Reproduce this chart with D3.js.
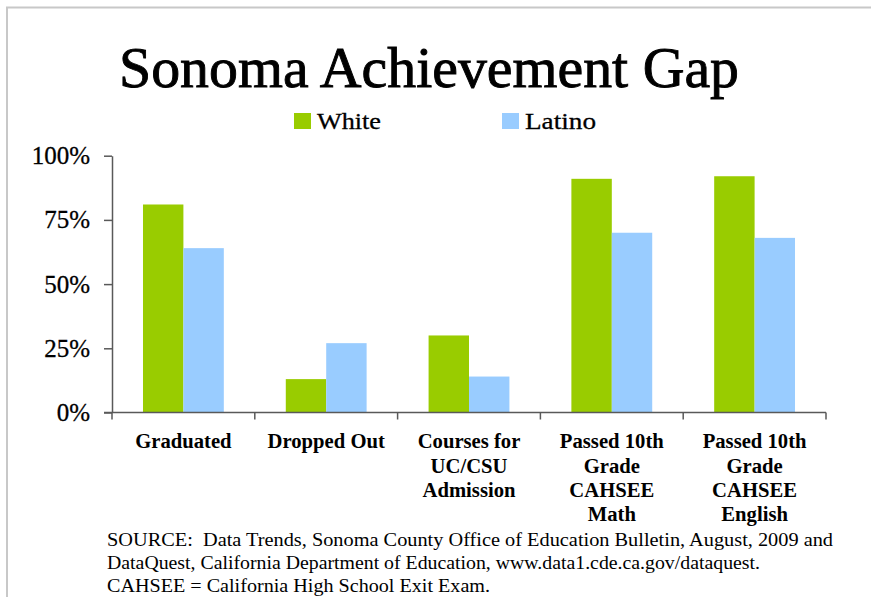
<!DOCTYPE html>
<html>
<head>
<meta charset="utf-8">
<script src="https://cdn.jsdelivr.net/npm/d3@7/dist/d3.min.js"></script>
<style>
  body { margin: 0; background: #fff; }
  svg { display: block; }
</style>
</head>
<body>
<script>
// Categories (each entry is the label split into its display lines)
const categories = [
  ["Graduated"],
  ["Dropped Out"],
  ["Courses for", "UC/CSU", "Admission"],
  ["Passed 10th", "Grade", "CAHSEE", "Math"],
  ["Passed 10th", "Grade", "CAHSEE", "English"]
];
const series = ["White", "Latino"];
const whiteValues = [81, 13, 30, 91, 92];
const latinoValues = [64, 27, 14, 70, 68];
const yTicks = [0, 25, 50, 75, 100];
const titleText = "Sonoma Achievement Gap";
const sourceLines = [
  "SOURCE:  Data Trends, Sonoma County Office of Education Bulletin, August, 2009 and",
  "DataQuest, California Department of Education, www.data1.cde.ca.gov/dataquest.",
  "CAHSEE = California High School Exit Exam."
];

const colors = { White: "#99cc00", Latino: "#99ccff" };
const valuesBySeries = { White: whiteValues, Latino: latinoValues };
const SERIF = "'Liberation Serif', 'Times New Roman', serif";
const AXIS = "#595959";

const W = 871, H = 597;
const svg = d3.select("body").append("svg")
  .attr("width", W).attr("height", H);

// slide frame (top and left rule)
svg.append("path")
  .attr("d", `M7,${H}V7.5H${W}`)
  .attr("fill", "none")
  .attr("stroke", "#c8c8c8")
  .attr("stroke-width", 2);

// title (slightly thickened strokes for a schoolbook-like weight)
svg.append("text")
  .attr("x", 119).attr("y", 87)
  .attr("textLength", 620)
  .attr("lengthAdjust", "spacingAndGlyphs")
  .attr("font-family", SERIF)
  .attr("font-size", 58)
  .attr("fill", "#000")
  .attr("stroke", "#000")
  .attr("stroke-width", 0.9)
  .text(titleText);

// legend
const legendX = { White: 294, Latino: 502 };
const legendTextWidth = { White: 64, Latino: 71 };
const legend = svg.append("g");
series.forEach(s => {
  legend.append("rect")
    .attr("x", legendX[s]).attr("y", 113)
    .attr("width", 17).attr("height", 16)
    .attr("fill", colors[s]);
  legend.append("text")
    .attr("x", legendX[s] + 23).attr("y", 128.5)
    .attr("textLength", legendTextWidth[s])
    .attr("lengthAdjust", "spacingAndGlyphs")
    .attr("font-family", SERIF)
    .attr("font-size", 24)
    .attr("fill", "#000")
    .attr("stroke", "#000")
    .attr("stroke-width", 0.3)
    .text(s);
});

// plot area
const plot = { left: 112, right: 826, top: 155.7, bottom: 412.5 };
const x = d3.scaleBand()
  .domain(d3.range(categories.length))
  .range([plot.left, plot.right]);
const xs = d3.scaleBand()
  .domain(series)
  .range([x.bandwidth() * 0.217, x.bandwidth() * 0.783]);
const y = d3.scaleLinear().domain([0, 100]).range([plot.bottom, plot.top]);

// bars
const barData = [];
categories.forEach((c, i) => series.forEach(s => barData.push({ i, s, v: valuesBySeries[s][i] })));
svg.append("g").selectAll("rect")
  .data(barData)
  .join("rect")
  .attr("x", d => x(d.i) + xs(d.s))
  .attr("y", d => y(d.v))
  .attr("width", xs.bandwidth())
  .attr("height", d => y(0) - y(d.v))
  .attr("fill", d => colors[d.s]);

// y axis
const yAxis = svg.append("g")
  .attr("transform", `translate(${plot.left},0)`)
  .call(d3.axisLeft(y).tickValues(yTicks).tickFormat(d => d + "%")
    .tickSize(8).tickSizeOuter(0).tickPadding(14));
yAxis.attr("font-family", null).attr("font-size", null);
yAxis.select(".domain").attr("stroke", AXIS).attr("stroke-width", 1.5);
yAxis.selectAll(".tick line").attr("stroke", AXIS).attr("stroke-width", 1.5);
yAxis.selectAll(".tick text")
  .attr("font-family", SERIF)
  .attr("font-size", 25)
  .attr("fill", "#000")
  .attr("stroke", "#000")
  .attr("stroke-width", 0.3);

// x axis: baseline and ticks at category boundaries
const xAxis = svg.append("g");
xAxis.append("line")
  .attr("x1", plot.left - 8).attr("x2", plot.right)
  .attr("y1", y(0)).attr("y2", y(0))
  .attr("stroke", AXIS).attr("stroke-width", 1.5);
const boundaries = d3.range(categories.length).map(i => x(i)).concat([x.range()[1]]);
xAxis.selectAll("line.b")
  .data(boundaries)
  .join("line")
  .attr("class", "b")
  .attr("x1", d => d).attr("x2", d => d)
  .attr("y1", y(0)).attr("y2", y(0) + 7)
  .attr("stroke", AXIS).attr("stroke-width", 1.5);

// category labels (bold, horizontally condensed)
const catGroup = svg.append("g");
const catLabels = catGroup.selectAll("g")
  .data(categories)
  .join("g")
  .attr("transform", (d, i) => `translate(${x(i) + x.bandwidth() / 2},0)`);
const catText = catLabels.selectAll("text")
  .data(d => d)
  .join("text")
  .attr("x", 0)
  .attr("y", (d, j) => 448.5 + j * 24.2)
  .attr("text-anchor", "middle")
  .attr("font-family", SERIF)
  .attr("font-size", 21)
  .attr("font-weight", "bold")
  .attr("fill", "#000")
  .text(d => d);
// condense to the width of the first label line
const sampleWidth = catText.node().getComputedTextLength();
const catSqueeze = 96.5 / sampleWidth;
catText.attr("transform", `scale(${catSqueeze},1)`);

// source note
const sourceWidths = [726, 653, 383];
svg.append("g").selectAll("text")
  .data(sourceLines)
  .join("text")
  .attr("x", 107)
  .attr("y", (d, i) => 546 + i * 23)
  .attr("textLength", (d, i) => sourceWidths[i])
  .attr("lengthAdjust", "spacingAndGlyphs")
  .style("white-space", "pre")
  .attr("font-family", SERIF)
  .attr("font-size", 19)
  .attr("fill", "#000")
  .text(d => d);
</script>
</body>
</html>
